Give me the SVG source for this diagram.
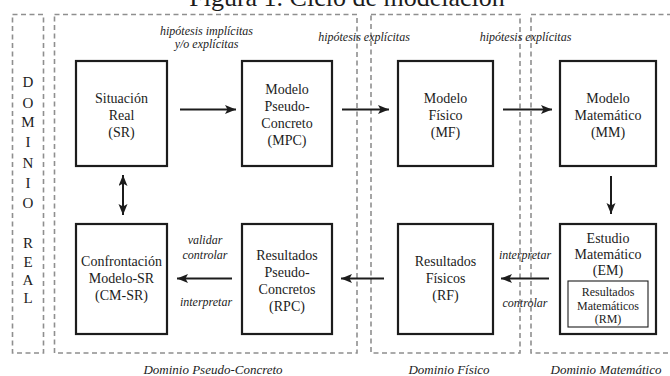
<svg xmlns="http://www.w3.org/2000/svg" width="670" height="376" viewBox="0 0 670 376">
  <defs>
    <style>
      .domain { fill: none; stroke: #8f8f8f; stroke-width: 1.6; stroke-dasharray: 5 3.5; }
      .box { fill: #ffffff; stroke: #1c1c1c; stroke-width: 2.2; }
      .inner { fill: #ffffff; stroke: #1c1c1c; stroke-width: 1.1; }
      .lbl { font-family: "Liberation Serif", "Times New Roman", serif; font-size: 14px; fill: #1c1c1c; text-anchor: middle; }
      .small { font-size: 12px; }
      .it { font-family: "Liberation Serif", "Times New Roman", serif; font-style: italic; font-size: 12px; fill: #1c1c1c; text-anchor: middle; }
      .dom { font-family: "Liberation Serif", "Times New Roman", serif; font-style: italic; font-size: 13px; fill: #1c1c1c; text-anchor: middle; }
      .vert { font-family: "Liberation Serif", "Times New Roman", serif; font-size: 15px; fill: #1c1c1c; text-anchor: middle; }
      .title { font-family: "Liberation Serif", "Times New Roman", serif; font-size: 26px; fill: #1c1c1c; text-anchor: middle; }
      .arrow { fill: none; stroke: #1c1c1c; stroke-width: 2; }
    </style>
    <marker id="head" markerUnits="userSpaceOnUse" markerWidth="12" markerHeight="10" refX="11" refY="4.5" orient="auto-start-reverse">
      <path d="M0,0 L11,4.5 L0,9 L2.5,4.5 z" fill="#1c1c1c"/>
    </marker>
  </defs>

  <rect width="670" height="376" fill="#ffffff"/>

  <!-- title -->
  <text class="title" x="347" y="6">Figura 1. Ciclo de modelación</text>

  <!-- domains -->
  <g id="domains">
    <rect class="domain" x="12.5" y="14.5" width="31" height="338.5"/>
    <rect class="domain" x="54.5" y="14.5" width="302.5" height="338.5"/>
    <rect class="domain" x="371" y="14.5" width="149" height="338.5"/>
    <rect class="domain" x="531" y="14.5" width="150" height="338.5"/>
  </g>

  <!-- Dominio Real (vertical) -->
  <g id="dominio-real">
    <text class="vert" x="28" y="87">D</text>
    <text class="vert" x="28" y="108">O</text>
    <text class="vert" x="28" y="127">M</text>
    <text class="vert" x="28" y="147">I</text>
    <text class="vert" x="28" y="168">N</text>
    <text class="vert" x="28" y="188">I</text>
    <text class="vert" x="28" y="208">O</text>
    <text class="vert" x="28" y="248">R</text>
    <text class="vert" x="28" y="267">E</text>
    <text class="vert" x="28" y="285">A</text>
    <text class="vert" x="28" y="303">L</text>
  </g>

  <!-- domain captions -->
  <g id="captions">
    <text class="dom" x="213" y="374">Dominio Pseudo-Concreto</text>
    <text class="dom" x="449" y="374">Dominio Físico</text>
    <text class="dom" x="606" y="374">Dominio Matemático</text>
  </g>

  <!-- connectors -->
  <g id="connectors">
    <line class="arrow" x1="180" y1="109.5" x2="236" y2="109.5" marker-end="url(#head)"/>
    <line class="arrow" x1="342" y1="109.5" x2="389" y2="109.5" marker-end="url(#head)"/>
    <line class="arrow" x1="503" y1="109.5" x2="552" y2="109.5" marker-end="url(#head)"/>
    <line class="arrow" x1="611" y1="176" x2="611" y2="214" marker-end="url(#head)"/>
    <line class="arrow" x1="549" y1="278.5" x2="501" y2="278.5" marker-end="url(#head)"/>
    <line class="arrow" x1="384" y1="278.5" x2="341" y2="278.5" marker-end="url(#head)"/>
    <line class="arrow" x1="232" y1="278.5" x2="177" y2="278.5" marker-end="url(#head)"/>
    <line class="arrow" x1="123" y1="175" x2="123" y2="215" marker-start="url(#head)" marker-end="url(#head)"/>

    <text class="it" x="206.5" y="35">hipótesis implícitas</text>
    <text class="it" x="206.5" y="48">y/o explícitas</text>
    <text class="it" x="364" y="41">hipótesis explícitas</text>
    <text class="it" x="525.5" y="41">hipótesis explícitas</text>

    <text class="it" x="205" y="244">validar</text>
    <text class="it" x="205" y="259">controlar</text>
    <text class="it" x="206" y="306">interpretar</text>
    <text class="it" x="525" y="259">interpretar</text>
    <text class="it" x="525" y="307">controlar</text>
  </g>

  <!-- nodes -->
  <g id="SR">
    <rect class="box" x="76" y="61" width="91" height="105"/>
    <text class="lbl" x="121.5" y="103">Situación</text>
    <text class="lbl" x="121.5" y="120">Real</text>
    <text class="lbl" x="121.5" y="137">(SR)</text>
  </g>
  <g id="MPC">
    <rect class="box" x="242" y="61" width="90" height="105"/>
    <text class="lbl" x="287" y="94">Modelo</text>
    <text class="lbl" x="287" y="111">Pseudo-</text>
    <text class="lbl" x="287" y="128">Concreto</text>
    <text class="lbl" x="287" y="145">(MPC)</text>
  </g>
  <g id="MF">
    <rect class="box" x="398" y="61" width="95" height="105"/>
    <text class="lbl" x="445.5" y="103">Modelo</text>
    <text class="lbl" x="445.5" y="120">Físico</text>
    <text class="lbl" x="445.5" y="137">(MF)</text>
  </g>
  <g id="MM">
    <rect class="box" x="560" y="61" width="96" height="105"/>
    <text class="lbl" x="608" y="103">Modelo</text>
    <text class="lbl" x="608" y="120">Matemático</text>
    <text class="lbl" x="608" y="137">(MM)</text>
  </g>
  <g id="CM-SR">
    <rect class="box" x="76" y="224" width="91" height="110"/>
    <text class="lbl" x="121.5" y="266">Confrontación</text>
    <text class="lbl" x="121.5" y="283">Modelo-SR</text>
    <text class="lbl" x="121.5" y="300">(CM-SR)</text>
  </g>
  <g id="RPC">
    <rect class="box" x="242" y="224" width="90" height="110"/>
    <text class="lbl" x="287" y="260">Resultados</text>
    <text class="lbl" x="287" y="277">Pseudo-</text>
    <text class="lbl" x="287" y="294">Concretos</text>
    <text class="lbl" x="287" y="311">(RPC)</text>
  </g>
  <g id="RF">
    <rect class="box" x="398" y="224" width="95" height="110"/>
    <text class="lbl" x="445.5" y="266">Resultados</text>
    <text class="lbl" x="445.5" y="283">Físicos</text>
    <text class="lbl" x="445.5" y="300">(RF)</text>
  </g>
  <g id="EM">
    <rect class="box" x="560" y="224" width="96" height="110"/>
    <text class="lbl" x="608" y="243">Estudio</text>
    <text class="lbl" x="608" y="259">Matemático</text>
    <text class="lbl" x="608" y="275">(EM)</text>
    <g id="RM">
      <rect class="inner" x="568" y="281" width="80" height="46"/>
      <text class="lbl small" x="608" y="296">Resultados</text>
      <text class="lbl small" x="608" y="310">Matemáticos</text>
      <text class="lbl small" x="608" y="323">(RM)</text>
    </g>
  </g>
</svg>
